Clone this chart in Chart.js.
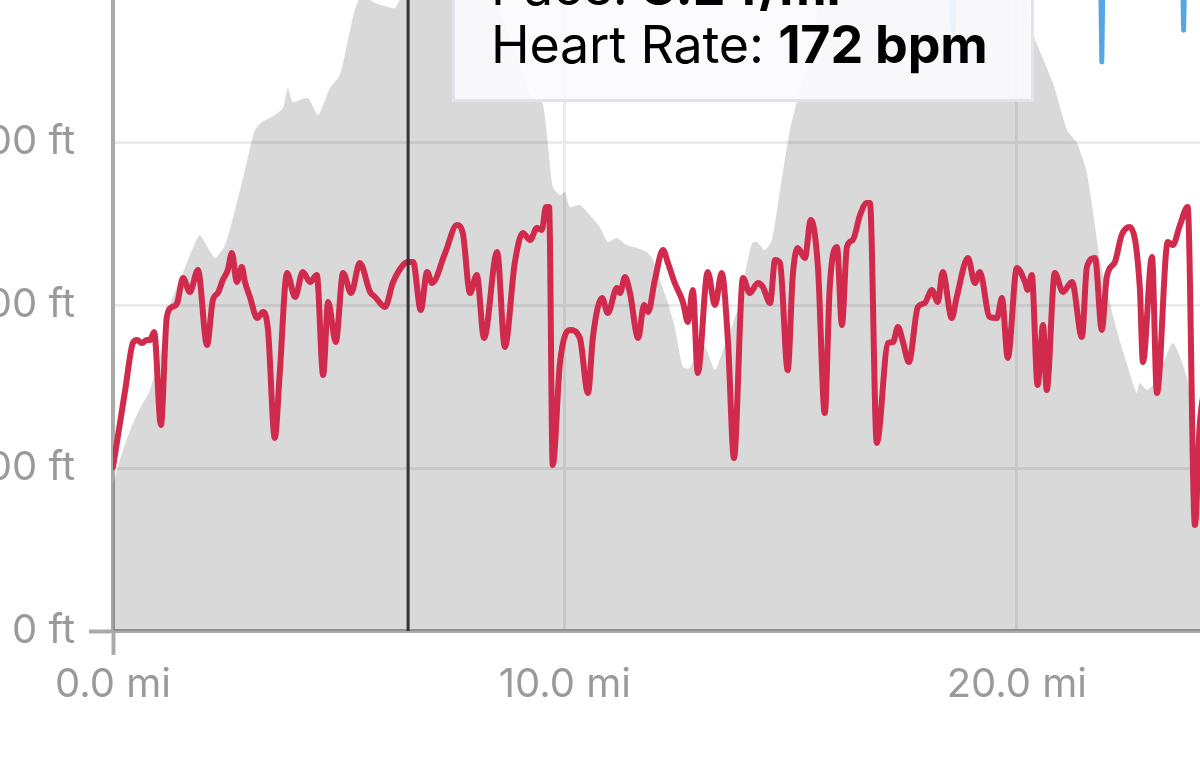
<!DOCTYPE html>
<html lang="en">
<head>
    <meta charset="UTF-8">
    <title>Run Profile</title>
    <script src="https://cdn.jsdelivr.net/npm/chart.js"></script>
    <style>
        html, body { margin: 0; padding: 0; background: #fff; }
        body { width: 1200px; height: 783px; overflow: hidden; position: relative; }
        #wrap { position: absolute; left: -47px; top: -222px; width: 1335px; height: 983px; }
        #tip {
            position: absolute; left: 452px; top: -70px; width: 582px; height: 172px;
            box-sizing: border-box; border: 3px solid #e3e3ec; background: rgba(251, 251, 253, 0.9);
            font-family: Inter, sans-serif; font-size: 52px; line-height: 58px; color: #000;
            padding: 25px 0 0 36px; z-index: 2; letter-spacing: -0.2px;
        }
        #tip b { font-weight: 700; }
    </style>
</head>
<body>
    <div id="wrap"><canvas id="profileChart"></canvas></div>
    <div id="tip">
        <div>Pace: <b>8:24/mi</b></div>
        <div>Heart Rate: <b>172 bpm</b></div>
    </div>

    <script>
        // tick labels
        const xTickMiles = [0, 10, 20];
        const yTickFeet = [0, 100, 200, 300, 400, 500];

        // elevation (ft) by distance (mi)
        const elevMiles = [0, 0.15, 0.38, 0.60, 0.82, 1.04, 1.26, 1.48, 1.75, 1.92, 2.10, 2.26, 2.48, 2.70, 2.92, 3.14, 3.30, 3.58, 3.76, 3.87,
            3.98, 4.31, 4.54, 4.80, 5.02, 5.20, 5.35, 5.51, 5.80, 6.02, 6.24, 6.46, 6.79, 7.46, 8.12, 8.45, 8.89, 9.29, 9.51, 9.73,
            9.89, 10.00, 10.11, 10.33, 10.55, 10.77, 10.95, 11.15, 11.37, 11.59, 11.81, 11.95, 12.10, 12.26, 12.43, 12.61, 12.77, 12.99, 13.14, 13.32,
            13.50, 13.72, 13.87, 13.98, 14.14, 14.25, 14.42, 14.58, 14.76, 14.98, 15.20, 15.42, 15.53, 15.69, 16.31, 17.41, 18.52, 19.62, 20.18, 20.35,
            20.80, 21.11, 21.33, 21.55, 21.84, 21.99, 22.21, 22.43, 22.65, 22.72, 22.88, 23.10, 23.45, 23.76, 23.89, 24.05, 24.49, 25.38, 26.04];
        const elevFt = [89.6, 104.9, 123.3, 136.8, 147.9, 169.3, 200.0, 215.3, 233.7, 242.9, 235.0, 228.8, 236.8, 258.3, 282.8, 307.4, 312.3, 316.6, 320.9, 333.1,
            324.5, 327.0, 316.6, 333.1, 341.1, 362.6, 381.0, 390.2, 385.3, 383.4, 382.2, 393.3, 405.5, 411.7, 399.4, 387.1, 356.4, 325.8, 323.9, 272.4,
            267.5, 269.3, 260.1, 261.3, 255.2, 247.9, 238.7, 241.1, 236.8, 235.0, 232.5, 227.6, 215.3, 203.1, 186.5, 162.0, 161.3, 178.5, 172.4, 160.1,
            172.4, 189.0, 201.2, 218.4, 238.0, 238.7, 233.7, 239.9, 270.6, 307.4, 331.9, 350.3, 368.7, 393.3, 411.7, 417.8, 417.8, 411.7, 387.1, 366.9,
            336.2, 307.4, 299.4, 281.0, 227.6, 209.2, 184.7, 164.4, 146.0, 152.1, 147.9, 154.0, 176.7, 155.8, 127.6, 106.7, 92.6, 80.4, 74.2];

        // heart rate (bpm) by distance (mi)
        const hrMiles = [0.00, 0.20, 0.27, 0.44, 0.53, 0.64, 0.75, 0.82, 0.91, 1.06,
            1.19, 1.31, 1.42, 1.55, 1.70, 1.88, 2.08, 2.21, 2.32, 2.43,
            2.54, 2.63, 2.74, 2.85, 2.92, 3.03, 3.19, 3.32, 3.43, 3.58,
            3.69, 3.85, 4.03, 4.20, 4.36, 4.51, 4.65, 4.76, 4.93, 5.09,
            5.27, 5.46, 5.69, 5.80, 6.02, 6.19, 6.42, 6.53, 6.64, 6.81,
            6.95, 7.06, 7.35, 7.61, 7.74, 7.90, 8.05, 8.21, 8.50, 8.67,
            8.89, 9.07, 9.23, 9.38, 9.49, 9.58, 9.65, 9.73, 9.89, 10.11,
            10.33, 10.51, 10.62, 10.82, 10.95, 11.15, 11.22, 11.33, 11.44, 11.62,
            11.75, 11.84, 11.99, 12.17, 12.28, 12.43, 12.61, 12.72, 12.83, 12.94,
            13.16, 13.32, 13.47, 13.61, 13.74, 13.94, 14.09, 14.27, 14.38, 14.54,
            14.65, 14.76, 14.93, 15.04, 15.15, 15.31, 15.44, 15.60, 15.75, 15.86,
            16.02, 16.13, 16.24, 16.37, 16.53, 16.68, 16.75, 16.90, 17.15, 17.26,
            17.37, 17.48, 17.61, 17.81, 17.96, 18.12, 18.25, 18.36, 18.56, 18.67,
            18.92, 19.07, 19.18, 19.40, 19.56, 19.67, 19.80, 20.00, 20.18, 20.24,
            20.33, 20.46, 20.58, 20.66, 20.84, 21.02, 21.22, 21.44, 21.55, 21.73,
            21.88, 21.99, 22.17, 22.32, 22.50, 22.72, 22.79, 22.99, 23.10, 23.34,
            23.45, 23.61, 23.78, 23.94, 24.05, 24.27, 24.60];
        const hrBpm = [151.5, 157.2, 159.2, 163.9, 164.2, 163.9, 164.2, 164.2, 165.0, 155.7,
            166.5, 167.5, 167.9, 170.4, 169.0, 171.2, 163.7, 168.2, 168.9, 170.2,
            171.2, 172.9, 170.0, 171.5, 170.0, 168.5, 166.4, 167.0, 165.2, 154.4,
            160.9, 170.9, 168.5, 171.0, 170.0, 170.7, 160.7, 168.0, 164.0, 170.9,
            168.9, 171.9, 169.0, 168.5, 167.5, 169.9, 171.7, 172.0, 172.0, 167.2,
            171.0, 169.9, 172.9, 175.7, 174.9, 168.9, 170.7, 164.4, 173.0, 163.5,
            171.9, 174.9, 174.2, 175.4, 175.2, 177.5, 177.5, 151.7, 161.9, 165.2,
            164.4, 158.9, 164.5, 168.4, 166.9, 169.4, 168.9, 170.5, 168.9, 164.4,
            167.7, 167.0, 170.2, 173.2, 171.9, 169.9, 168.0, 166.0, 169.2, 160.9,
            171.0, 167.7, 170.9, 163.9, 152.4, 170.4, 168.9, 169.9, 169.5, 167.9,
            172.2, 171.9, 161.2, 170.5, 173.4, 172.4, 176.2, 171.4, 156.9, 169.5,
            173.5, 165.7, 173.5, 174.2, 176.7, 177.9, 177.9, 153.9, 163.9, 164.0,
            165.5, 164.0, 162.0, 167.5, 167.9, 169.2, 168.0, 171.0, 166.4, 168.5,
            172.4, 169.9, 171.0, 166.5, 166.4, 168.4, 162.4, 171.4, 170.0, 169.2,
            170.7, 159.7, 165.7, 159.2, 170.9, 169.0, 170.0, 164.5, 171.5, 172.4,
            165.2, 170.5, 172.0, 174.7, 175.5, 169.5, 162.0, 172.5, 158.9, 174.0,
            173.7, 175.7, 177.5, 145.7, 155.9, 160.2, 165.1];

        // pace (sec/mi) by distance (mi)
        const paceMiles = [0, 1, 2, 3, 4, 5, 6, 6.53, 7, 8, 9, 10, 11, 12, 13, 14, 15, 16, 17, 18,
            18.55, 18.58, 18.61, 19, 20, 21, 21.85, 21.88, 21.91, 22, 23, 23.66, 23.69, 23.72, 24, 25, 26];
        const paceSec = [520, 512, 508, 510, 506, 509, 507, 504, 502, 505, 511, 508, 503, 506, 510, 507, 504, 509, 505, 508,
            510, 562, 510, 506, 512, 509, 514, 583, 514, 511, 508, 512, 562, 512, 515, 518, 520];

        const cursorMile = 6.53;

        const toPoints = (xs, ys) => xs.map((x, i) => ({ x: x, y: ys[i] }));

        const labelFont = { family: 'Inter', size: 40 };
        const originTick = ctx => (ctx.tick && ctx.tick.value === 0) ? '#aaaaaa' : 'rgba(0,0,0,0)';

        const crosshair = {
            id: 'crosshair',
            afterDatasetsDraw(chart) {
                const { ctx, chartArea, scales } = chart;
                const x = scales.x.getPixelForValue(cursorMile);
                ctx.save();
                ctx.strokeStyle = '#333333';
                ctx.lineWidth = 3;
                ctx.beginPath();
                ctx.moveTo(x, chartArea.top);
                ctx.lineTo(x, chartArea.bottom);
                ctx.stroke();
                ctx.restore();
            }
        };

        new Chart(document.getElementById('profileChart'), {
            type: 'line',
            data: {
                datasets: [
                    {
                        label: 'Heart Rate',
                        data: toPoints(hrMiles, hrBpm),
                        yAxisID: 'hr',
                        borderColor: '#d02a4c',
                        borderWidth: 6,
                        pointRadius: 0,
                        cubicInterpolationMode: 'monotone',
                        borderJoinStyle: 'round',
                        borderCapStyle: 'round',
                        fill: false
                    },
                    {
                        label: 'Pace',
                        data: toPoints(paceMiles, paceSec),
                        yAxisID: 'pace',
                        borderColor: '#55a6e1',
                        borderWidth: 5,
                        pointRadius: 0,
                        tension: 0,
                        borderJoinStyle: 'round',
                        borderCapStyle: 'round',
                        fill: false
                    },
                    {
                        label: 'Elevation',
                        data: toPoints(elevMiles, elevFt),
                        yAxisID: 'y',
                        borderWidth: 0,
                        borderColor: 'rgba(0,0,0,0)',
                        backgroundColor: 'rgba(0,0,0,0.15)',
                        pointRadius: 0,
                        tension: 0.2,
                        fill: 'origin'
                    }
                ]
            },
            options: {
                responsive: true,
                maintainAspectRatio: false,
                animation: false,
                layout: { padding: 0, autoPadding: false },
                plugins: { legend: { display: false }, tooltip: { enabled: false } },
                scales: {
                    x: {
                        type: 'linear',
                        min: 0,
                        max: 26,
                        afterFit: s => { s.height = 130; },
                        afterBuildTicks: s => { s.ticks = xTickMiles.map(v => ({ value: v })); },
                        ticks: {
                            callback: v => v.toFixed(1) + ' mi',
                            color: '#9a9a9a',
                            font: labelFont,
                            padding: 6,
                            maxRotation: 0,
                            autoSkip: false
                        },
                        grid: { color: '#ebebeb', lineWidth: 3, tickLength: 24, tickWidth: 4, tickColor: originTick },
                        border: { color: '#aaaaaa', width: 4 }
                    },
                    y: {
                        position: 'left',
                        min: 0,
                        max: 500,
                        afterFit: s => { s.width = 160; },
                        afterBuildTicks: s => { s.ticks = yTickFeet.map(v => ({ value: v })); },
                        ticks: {
                            callback: v => v + ' ft',
                            color: '#9a9a9a',
                            font: labelFont,
                            padding: 14
                        },
                        grid: { color: '#ebebeb', lineWidth: 3, tickLength: 24, tickWidth: 4, tickColor: originTick },
                        border: { color: '#aaaaaa', width: 4 }
                    },
                    hr: { display: false, min: 135.1, max: 216.6 },
                    pace: { display: false, reverse: true, min: 420, max: 960 }
                }
            },
            plugins: [crosshair]
        });
    </script>
</body>
</html>
